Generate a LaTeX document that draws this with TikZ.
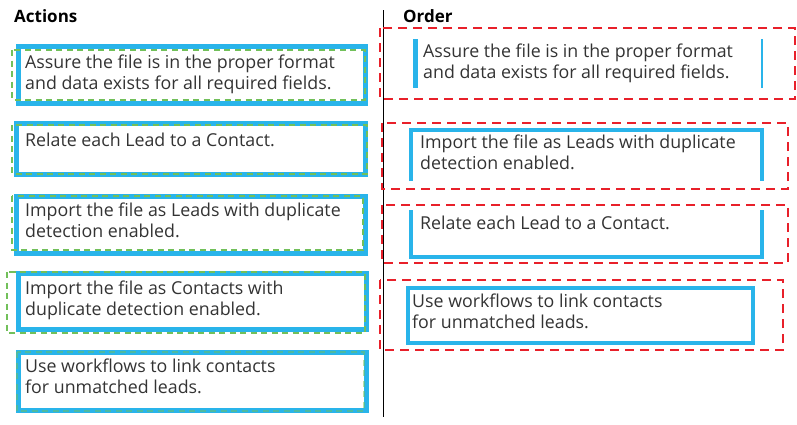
\documentclass[tikz,border=0pt]{standalone}
\usepackage{fontspec}
\setmainfont{Open Sans}
\definecolor{bluec}{HTML}{29B4EA}
\definecolor{greenc}{HTML}{72C05A}
\definecolor{redc}{HTML}{E8202A}
\definecolor{txtc}{HTML}{333333}
\tikzset{
  bluebox/.style={draw=bluec, line width=5pt, fill=none},
  greendash/.style={draw=greenc, line width=2pt, dash pattern=on 6pt off 4.5pt},
  reddash/.style={draw=redc, line width=2.4pt, dash pattern=on 9pt off 6pt},
  bluebar/.style={draw=bluec, line width=4pt},
  lbl/.style={anchor=base west, inner sep=0pt, align=left, text=txtc, font=\fontsize{17.8}{21.5}\selectfont},
  hdr/.style={anchor=base west, inner sep=0pt, text=black, font=\fontsize{17}{21}\selectfont\bfseries},
}
\begin{document}
\begin{tikzpicture}[x=1pt,y=-1pt]
\useasboundingbox (0,0) rectangle (797,424);
% headers
\node[hdr] (hact) at (14,22) {Actions};
\node[hdr] (hord) at (403,22) {Order};
% divider
\coordinate (vtop) at (383.5,10);
\coordinate (vbot) at (383.5,417);
\draw[black, line width=1.2pt] (vtop) -- (vbot);
% left boxes
\draw[bluebox] (18,46) rectangle (365,103);
\draw[greendash] (12,50) rectangle (365,100);
\draw[bluebox] (16,123) rectangle (365,174);
\draw[greendash] (12,125) rectangle (367,174);
\draw[bluebox] (16,196) rectangle (365,253);
\draw[greendash] (12,196) rectangle (363,250);
\draw[bluebox] (18,273) rectangle (366,329);
\draw[greendash] (7,272) rectangle (365,333);
\draw[bluebox] (18,352) rectangle (366,410);
\draw[greendash, draw opacity=0.5] (17,352) rectangle (364,411);
% left texts (anchor = baseline of last line)
\node[lbl] (l1) at (25,89.5) {Assure the file is in the proper format\\and data exists for all required fields.};
\node[lbl] (l2) at (25,146) {Relate each Lead to a Contact.};
\node[lbl] (l3) at (25,237.5) {Import the file as Leads with duplicate\\detection enabled.};
\node[lbl] (l4) at (25,315.5) {Import the file as Contacts with\\duplicate detection enabled.};
\node[lbl] (l5) at (25,393.5) {Use workflows to link contacts\\for unmatched leads.};
% right red dashed boxes
\draw[reddash] (380,28) rectangle (795,99);
\draw[reddash] (382,123) rectangle (788,189);
\draw[reddash] (382,205) rectangle (788,263);
\draw[reddash] (380,280) rectangle (783,350);
% right blue
\draw[bluebar, line width=5pt] (415.5,39) -- (415.5,88);
\draw[bluebar, line width=2pt] (762,39) -- (762,88);
\draw[bluebar] (411,181) -- (411,129.5) -- (761.5,129.5) -- (761.5,181);
\draw[bluebar] (411,210) -- (411,256.5) -- (761.5,256.5) -- (761.5,210);
\draw[bluebar] (408,288) rectangle (753,343);
% right texts
\node[lbl] (r1) at (423,78.5) {Assure the file is in the proper format\\and data exists for all required fields.};
\node[lbl] (r2) at (420,169.5) {Import the file as Leads with duplicate\\detection enabled.};
\node[lbl] (r3) at (420,229) {Relate each Lead to a Contact.};
\node[lbl] (r4) at (412,328.5) {Use workflows to link contacts\\for unmatched leads.};
\end{tikzpicture}
\end{document}
